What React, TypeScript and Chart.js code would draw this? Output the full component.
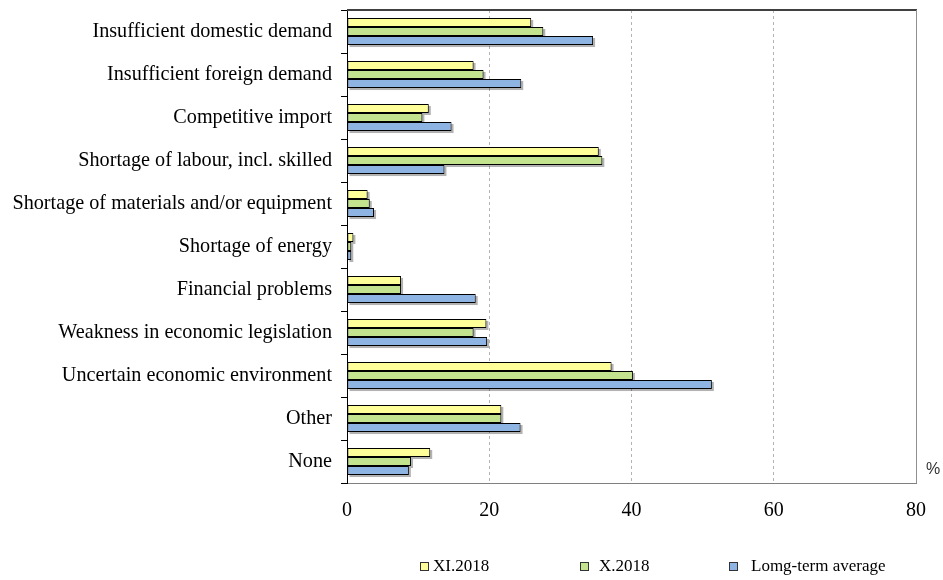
import React, { useEffect, useRef } from "react";
import { Chart, registerables } from "chart.js";

Chart.register(...registerables);

const categories = [
  "Insufficient domestic demand",
  "Insufficient foreign demand",
  "Competitive import",
  "Shortage of labour, incl. skilled",
  "Shortage of materials and/or equipment",
  "Shortage of energy",
  "Financial problems",
  "Weakness in economic legislation",
  "Uncertain economic environment",
  "Other",
  "None",
];

const seriesNames = ["XI.2018", "X.2018", "Lomg-term average"];

const xi2018 = [25.9, 17.8, 11.5, 35.4, 2.9, 0.9, 7.6, 19.6, 37.2, 21.7, 11.7];
const x2018 = [27.6, 19.2, 10.6, 35.9, 3.2, 0.6, 7.6, 17.8, 40.2, 21.7, 9.0];
const longTermAverage = [34.6, 24.5, 14.7, 13.7, 3.8, 0.6, 18.1, 19.7, 51.3, 24.4, 8.7];

const xTicks = [0, 20, 40, 60, 80];

const colors = ["#FFFF99", "#C4E38E", "#8EB4E3"];

const SERIF = "'Liberation Serif', 'Times New Roman', serif";

// soft grey drop shadow under every bar
const barShadow = {
  id: "barShadow",
  beforeDatasetsDraw(chart: any) {
    const ctx = chart.ctx;
    ctx.save();
    ctx.fillStyle = "rgba(0,0,0,0.3)";
    chart.data.datasets.forEach((_: any, i: number) => {
      const meta = chart.getDatasetMeta(i);
      meta.data.forEach((el: any) => {
        const p = el.getProps(["x", "y", "base", "height"], true);
        const left = Math.min(p.base, p.x);
        const w = Math.abs(p.x - p.base);
        ctx.fillRect(left + 2, p.y - p.height / 2 + 2, w, p.height);
      });
    });
    ctx.restore();
  },
};

// top and right frame lines, unit label and legend
const frameAndLegend = {
  id: "frameAndLegend",
  afterDraw(chart: any) {
    const ctx = chart.ctx;
    const { left, right, top, bottom } = chart.chartArea;
    ctx.save();
    ctx.strokeStyle = "#404040";
    ctx.lineWidth = 2;
    ctx.beginPath();
    ctx.moveTo(left, top);
    ctx.lineTo(right + 1, top);
    ctx.stroke();
    ctx.strokeStyle = "#909090";
    ctx.lineWidth = 1;
    ctx.beginPath();
    ctx.moveTo(right + 0.5, top);
    ctx.lineTo(right + 0.5, bottom);
    ctx.stroke();

    ctx.fillStyle = "#333";
    ctx.font = "16px 'Liberation Sans', Arial, sans-serif";
    ctx.textAlign = "left";
    ctx.textBaseline = "middle";
    ctx.fillText("%", right + 10, bottom - 13);

    const boxX = [420, 580, 729];
    const textX = [433, 599, 751];
    const y = 567;
    ctx.font = "17px " + SERIF;
    chart.data.datasets.forEach((ds: any, i: number) => {
      const x = boxX[i];
      ctx.fillStyle = ds.backgroundColor;
      ctx.fillRect(x, y - 5, 8, 8);
      ctx.strokeStyle = "#333";
      ctx.lineWidth = 1;
      ctx.strokeRect(x + 0.5, y - 4.5, 8, 8);
      ctx.fillStyle = "#000";
      ctx.fillText(ds.label, textX[i], y);
    });
    ctx.restore();
  },
};

export default function App() {
  const ref = useRef<HTMLCanvasElement | null>(null);

  useEffect(() => {
    if (!ref.current) return;
    const values = [xi2018, x2018, longTermAverage];
    const chart = new Chart(ref.current, {
      type: "bar",
      data: {
        labels: categories,
        datasets: values.map((d, i) => ({
          label: seriesNames[i],
          data: d,
          backgroundColor: colors[i],
          borderColor: "#000",
          borderWidth: 1,
          borderSkipped: false,
          categoryPercentage: 0.63,
          barPercentage: 1.0,
        })),
      },
      options: {
        indexAxis: "y",
        animation: false,
        responsive: true,
        maintainAspectRatio: false,
        layout: { padding: { left: 0, right: 27, top: 10, bottom: 57 } },
        plugins: { legend: { display: false }, tooltip: { enabled: false } },
        scales: {
          x: {
            min: 0,
            max: 80,
            afterBuildTicks: (scale: any) => {
              scale.ticks = xTicks.map((v) => ({ value: v }));
            },
            afterFit: (scale: any) => {
              scale.height = 40;
              scale.paddingLeft = 0;
              scale.paddingRight = 0;
            },
            grid: {
              drawTicks: false,
              color: (c: any) =>
                c.tick && c.tick.value > 0 && c.tick.value < 80 ? "#b4b4b4" : "rgba(0,0,0,0)",
            },
            border: { color: "#808080", width: 1, dash: [3, 3] },
            ticks: { padding: 16, color: "#000", font: { family: SERIF, size: 20 } },
          },
          y: {
            afterFit: (scale: any) => {
              scale.width = 347;
              scale.paddingTop = 0;
              scale.paddingBottom = 0;
            },
            grid: {
              drawOnChartArea: false,
              tickLength: 6,
              tickColor: "#000",
              offset: true,
            },
            border: { color: "#000", width: 1 },
            ticks: { padding: 9, color: "#000", autoSkip: false, font: { family: SERIF, size: 20.2 } },
          },
        },
      },
      plugins: [barShadow, frameAndLegend],
    });
    return () => chart.destroy();
  }, []);

  return (
    <div style={{ position: "absolute", left: 0, top: 0, width: 943, height: 580, background: "#fff" }}>
      <canvas ref={ref} />
    </div>
  );
}
